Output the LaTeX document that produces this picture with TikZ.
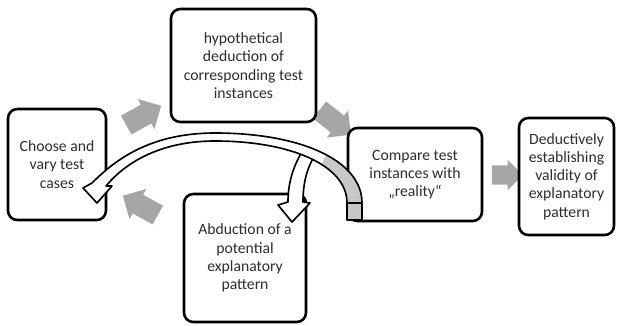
\documentclass[tikz,border=0pt]{standalone}
\usepackage{fontspec}
\setmainfont{Carlito}
\usetikzlibrary{arrows.meta,positioning,shapes.arrows}
\definecolor{boxText}{RGB}{45,45,45}
\definecolor{flowGray}{RGB}{166,166,166}
\definecolor{backGray}{RGB}{200,200,200}

\begin{document}
\begin{tikzpicture}[x=0.03cm, y=-0.03cm,
    every node/.style={font=\fontsize{13.4}{15.6}\selectfont, text=boxText},
    stagebox/.style={draw, line width=2.2pt, rounded corners=0.28cm, fill=white, align=center, inner sep=0pt},
    blockarrow/.style={single arrow, fill=flowGray, draw=none, inner xsep=0pt, inner ysep=0.315cm,
      single arrow head extend=0.195cm, single arrow tip angle=90, minimum height=1.2cm}]
    \useasboundingbox (0,0) rectangle (617,325);
    % grey block arrows of the cycle
    \foreach \p/\r/\n in {(139,118)/29/toHypo, (331,119)/-38/toCompare, (145,208)/151/toChoose}{
      \node[blockarrow, rotate=\r] (\n) at \p {};}
    \node[blockarrow, inner ysep=0.285cm, single arrow head extend=0.165cm, minimum height=0.93cm] (toDeduct) at (502.5,175) {};
    % the stages
    \node[stagebox, minimum width=2.94cm, minimum height=3.33cm] (choose) at (57,164.5) {Choose and\\vary test\\cases};
    \node[stagebox, minimum width=4.35cm, minimum height=3.39cm] (hypo) at (243.5,65.5) {hypothetical\\deduction of\\corresponding test\\instances};
    \node[stagebox, minimum width=4.02cm, minimum height=2.79cm] (compare) at (415,174.5) {Compare test\\instances with\\„reality“};
    \node[stagebox, minimum width=3.66cm, minimum height=3.84cm] (abduct) at (245,258) {Abduction of a\\potential\\explanatory\\pattern};
    \node[stagebox, minimum width=2.85cm, minimum height=3.51cm] (deduct) at (566.5,176.5) {Deductively\\establishing\\validity of\\explanatory\\pattern};
    % small white arrow down into the abduction box
    \draw[line width=1.4pt, fill=white, line join=round] (303,150) .. controls (292,168) and (288,185) .. (288,202)
      -- (278,205) -- (292,222) -- (310,203) -- (303,202) .. controls (303,185) and (306,168) .. (317,152) -- cycle;
    % big white ribbon from compare back to choose
    \fill[white] (362,220) -- (362,203) .. controls (362,160) and (300,133) .. (215,133) .. controls (150,133) and (115,160) .. (92,183)
      -- (83,188) -- (97,203) -- (112,186) -- (106,186) .. controls (125,163) and (160,141) .. (215,141)
      .. controls (290,141) and (347,165) .. (347,203) -- (347,220) -- cycle;
    \begin{scope}
      \clip (321,166) -- (334,138) -- (380,138) -- (380,230) -- (321,230) -- cycle;
      \fill[backGray] (362,220) -- (362,203) .. controls (362,160) and (300,133) .. (215,133) -- (215,141)
        .. controls (290,141) and (347,165) .. (347,203) -- (347,220) -- cycle;
    \end{scope}
    \draw[line width=1.4pt, line join=round] (362,220) -- (362,203) .. controls (362,160) and (300,133) .. (215,133) .. controls (150,133) and (115,160) .. (92,183)
      -- (83,188) -- (97,203) -- (112,186) -- (106,186) .. controls (125,163) and (160,141) .. (215,141)
      .. controls (290,141) and (347,165) .. (347,203) -- (347,220) -- cycle;
    \draw[line width=1.4pt] (347,203) -- (362,203);
  \end{tikzpicture}
\end{document}
